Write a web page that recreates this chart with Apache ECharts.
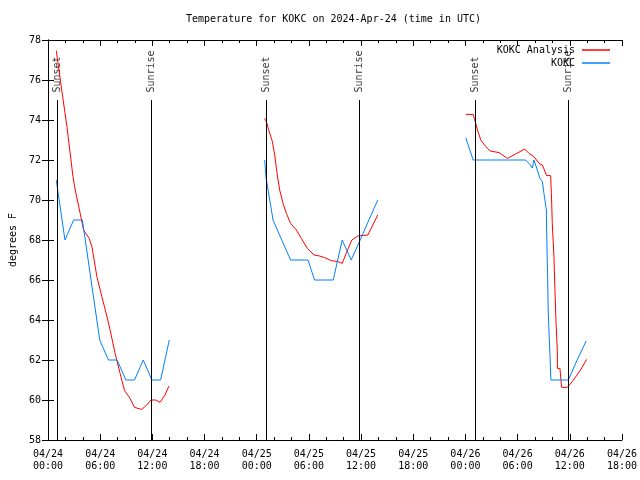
<!DOCTYPE html>
<html>
<head>
<meta charset="utf-8">
<script src="https://cdn.jsdelivr.net/npm/echarts@6/dist/echarts.min.js"></script>
<style>html,body{margin:0;padding:0;background:#fff}#c{width:640px;height:480px}</style>
</head>
<body>
<div id="c"></div>
<script>
// Hours since 2024-04-24 00:00 UTC
const xTickLabels = ['04/24\n00:00','04/24\n06:00','04/24\n12:00','04/24\n18:00',
  '04/25\n00:00','04/25\n06:00','04/25\n12:00','04/25\n18:00',
  '04/26\n00:00','04/26\n06:00','04/26\n12:00','04/26\n18:00'];

// KOKC Analysis (red)
const anaHours1 = [0.95,1.61,2.18,2.87,3.13,3.70,4.09,4.74,5.05,5.62,6.19,6.88,7.14,7.72,8.29,8.80,9.44,9.94,10.78,11.35,11.85,12.39,12.88,13.45,13.91];
const anaTemps1 = [77.47,75.4,73.67,71.17,70.5,69.33,68.5,68.08,67.67,66.17,65.17,64.0,63.5,62.33,61.33,60.47,60.08,59.63,59.53,59.75,60.0,60.0,59.88,60.25,60.7];
const anaHours2 = [24.92,25.11,25.38,25.80,26.07,26.34,26.64,27.03,27.41,27.90,28.56,29.13,29.82,30.59,31.23,31.80,32.57,33.34,33.83,34.29,34.94,35.63,36.78,37.35,37.92];
const anaTemps2 = [74.08,73.92,73.5,72.92,72.25,71.33,70.5,69.83,69.33,68.83,68.5,68.08,67.58,67.25,67.2,67.12,66.97,66.92,66.83,67.33,68.0,68.2,68.25,68.75,69.25];
const anaHours3 = [48.05,48.89,49.12,49.39,49.77,50.34,50.84,51.87,52.83,53.78,54.82,55.31,55.88,56.46,56.85,57.34,57.80,57.88,57.91,57.99,58.18,58.29,58.41,58.57,58.58,58.87,59.06,59.71,60.29,61.24,61.93];
const anaTemps3 = [74.28,74.28,73.92,73.5,73.0,72.67,72.45,72.37,72.08,72.3,72.55,72.33,72.17,71.83,71.75,71.22,71.22,70.38,70.0,68.83,67.17,65.58,64.0,62.42,61.58,61.58,60.63,60.63,60.92,61.5,62.03];

// KOKC observations (blue)
const obsHours1 = [0.95,1.05,1.95,2.95,3.95,4.95,5.95,6.95,7.95,8.95,9.95,10.95,11.95,12.95,13.95];
const obsTemps1 = [71,71,68,69,69,66,63,62,62,61,61,62,61,61,63];
const obsHours2 = [24.92,25.08,25.88,26.88,27.9,29.9,30.65,32.8,33.83,34.86,35.9,36.9,37.92];
const obsTemps2 = [72,71.1,69,68,67,67,66,66,68,67,68,69,70];
const obsHours3 = [48.05,48.89,54.93,55.31,55.70,55.88,56.27,56.57,56.85,57.03,57.31,57.33,57.45,57.53,57.68,57.83,59.83,60.85,61.89];
const obsTemps3 = [73.1,72,72,71.83,71.6,72,71.5,71.08,70.92,70.33,69.5,68.75,66.17,64.25,62.75,61,61,62,62.95];

const sunsetHours = [1.07, 25.15, 49.1];
const sunriseHours = [11.85, 35.8, 59.8];
const eventTop = 75;

const FONT = 'DejaVu Sans Mono';
const zip = (h, t) => h.map((x, i) => [x, t[i]]);

const events = sunsetHours.map(h => [h, eventTop, 'Sunset'])
  .concat(sunriseHours.map(h => [h, eventTop, 'Sunrise']));

function lineSeries(name, color, h, t) {
  return { name, type: 'line', data: zip(h, t), showSymbol: false, symbol: 'none',
    lineStyle: { color, width: 1 }, itemStyle: { color }, animation: false, z: 3 };
}

const chart = echarts.init(document.getElementById('c'), null, { renderer: 'canvas' });
chart.setOption({
  animation: false,
  backgroundColor: '#fff',
  title: { text: 'Temperature for KOKC on 2024-Apr-24 (time in UTC)', left: 181, top: 9,
    textStyle: { fontFamily: FONT, fontSize: 10, fontWeight: 'normal', color: '#000' } },
  grid: { left: 46, right: 18, top: 40, bottom: 40 },
  legend: [
    { data: ['KOKC Analysis'], orient: 'vertical', right: 25, top: 40, align: 'right',
      icon: 'rect', itemWidth: 28, itemHeight: 1.5,
      textStyle: { fontFamily: FONT, fontSize: 10, color: '#000', padding: [0, 2, 0, 0] } },
    { data: ['KOKC'], orient: 'vertical', right: 25, top: 53, align: 'right',
      icon: 'rect', itemWidth: 28, itemHeight: 1.5,
      textStyle: { fontFamily: FONT, fontSize: 10, color: '#000', padding: [0, 2, 0, 0] } }
  ],
  xAxis: [
    { type: 'value', min: 0, max: 66, interval: 6, position: 'bottom',
      axisLine: { show: true, lineStyle: { color: '#000', width: 1 } },
      axisTick: { show: true, inside: true, length: 6, lineStyle: { color: '#000' } },
      minorTick: { show: true, splitNumber: 3, length: 3, lineStyle: { color: '#000' } },
      splitLine: { show: false },
      axisLabel: { margin: 8, fontFamily: FONT, fontSize: 10, color: '#000', lineHeight: 12.5,
        formatter: v => xTickLabels[Math.round(v / 6)] } },
    { type: 'value', min: 0, max: 66, interval: 6, position: 'top',
      axisLine: { show: true, lineStyle: { color: '#000', width: 1 } },
      axisTick: { show: true, inside: true, length: 6, lineStyle: { color: '#000' } },
      minorTick: { show: true, splitNumber: 3, length: 3, lineStyle: { color: '#000' } },
      splitLine: { show: false }, axisLabel: { show: false } }
  ],
  yAxis: [
    { type: 'value', min: 58, max: 78, interval: 2, position: 'left',
      name: 'degrees F', nameLocation: 'middle', nameGap: 30, nameRotate: 90,
      nameTextStyle: { fontFamily: FONT, fontSize: 10, color: '#000' },
      axisLine: { show: true, lineStyle: { color: '#000', width: 1 } },
      axisTick: { show: true, inside: true, length: 6, lineStyle: { color: '#000' } },
      splitLine: { show: false },
      axisLabel: { margin: 7, fontFamily: FONT, fontSize: 10, color: '#000' } },
    { type: 'value', min: 58, max: 78, interval: 2, position: 'right',
      axisLine: { show: true, lineStyle: { color: '#000', width: 1 } },
      axisTick: { show: true, inside: true, length: 6, lineStyle: { color: '#000' } },
      splitLine: { show: false }, axisLabel: { show: false } }
  ],
  series: [
    lineSeries('KOKC Analysis', '#ff0000', anaHours1, anaTemps1),
    lineSeries('KOKC Analysis', '#ff0000', anaHours2, anaTemps2),
    lineSeries('KOKC Analysis', '#ff0000', anaHours3, anaTemps3),
    lineSeries('KOKC', '#0080ff', obsHours1, obsTemps1),
    lineSeries('KOKC', '#0080ff', obsHours2, obsTemps2),
    lineSeries('KOKC', '#0080ff', obsHours3, obsTemps3),
    { name: 'events', type: 'scatter', data: events, symbolSize: 1,
      itemStyle: { color: 'rgba(0,0,0,0)' }, z: 2,
      label: { show: true, position: 'top', distance: 7, rotate: 90, align: 'left', verticalAlign: 'middle',
        fontFamily: FONT, fontSize: 10, color: '#000', formatter: p => p.data[2] },
      markLine: { silent: true, symbol: 'none', animation: false,
        lineStyle: { color: '#000', width: 1, type: 'solid' }, label: { show: false },
        data: events.map(e => [{ coord: [e[0], 58] }, { coord: [e[0], e[1]] }]) } }
  ]
});
</script>
</body>
</html>
